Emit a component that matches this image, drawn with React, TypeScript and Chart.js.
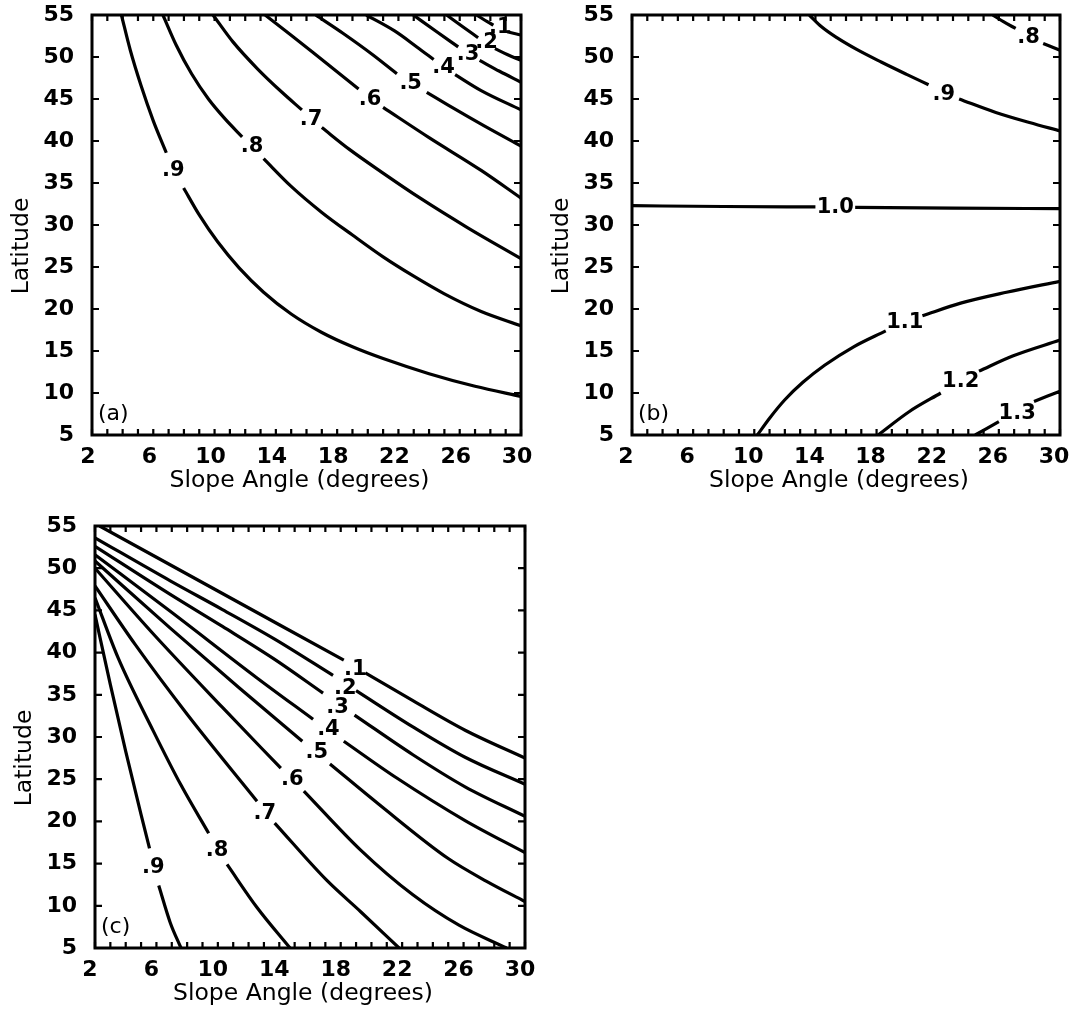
import { useEffect, useRef } from "react";
import { Chart, registerables } from "chart.js";

Chart.register(...registerables);

// ---------- axis ticks ----------
const xTickValues = [2, 6, 10, 14, 18, 22, 26, 30];
const xMinorTickValues = [2, 3, 4, 5, 6, 7, 8, 9, 10, 11, 12, 13, 14, 15, 16, 17, 18, 19, 20, 21, 22, 23, 24, 25, 26, 27, 28, 29, 30];
const yTickValues = [5, 10, 15, 20, 25, 30, 35, 40, 45, 50, 55];
const xTitle = "Slope Angle (degrees)";
const yTitle = "Latitude";

type Pt = [number, number] | null;

// ---------- panel (a) contours (null = gap left for the label) ----------
const a01: Pt[] = [[27.1, 55], [27.8, 54.2], [28.2, 53.8], null, [29.1, 53.0], [30, 52.6]];
const a02: Pt[] = [[25.15, 55], [26.2, 53.6], [27.2, 52.3], null, [28.3, 51.0], [29.1, 50.3], [30, 49.6]];
const a03: Pt[] = [[22.97, 55], [24.5, 53], [25.9, 51.2], null, [27.3, 49.6], [28.6, 48.3], [30, 47.0]];
const a04: Pt[] = [[19.9, 55], [21.75, 53.1], [23.2, 51.2], [24.3, 49.7], null, [25.7, 47.9], [27.4, 46.0], [30, 43.7]];
const a05: Pt[] = [[16.6, 55], [18.4, 52.8], [20.3, 50.3], [21.9, 48.0], null, [23.85, 45.8], [25.5, 44.0], [27.6, 41.8], [30, 39.4]];
const a06: Pt[] = [[13.3, 55], [15, 52.6], [17.2, 49.4], [19.4, 46.2], null, [21.0, 44.0], [24, 40.4], [27.4, 36.5], [30, 33.2]];
const a07: Pt[] = [[9.9, 55], [11.2, 51.8], [12.8, 48.6], [14.4, 45.8], [15.7, 43.7], null, [17, 41.6], [18.8, 39], [20.9, 36.3], [23.5, 33.1], [26.5, 29.7], [30, 26.0]];
const a08: Pt[] = [[6.63, 55], [7.5, 51.4], [8.5, 48], [9.6, 45], [10.7, 42.6], [11.8, 40.5], null, [13.2, 37.9], [15, 34.6], [17, 31.5], [19, 28.8], [21, 26.2], [23, 23.9], [25, 21.8], [27.4, 19.7], [30, 18.0]];
const a09: Pt[] = [[3.92, 55], [4.5, 50.8], [5.2, 46.6], [6.0, 42.4], [6.85, 38.6], null, [7.98, 34.4], [9.0, 31.2], [10.2, 28.0], [11.6, 24.9], [13.2, 22.0], [15, 19.4], [17, 17.2], [19, 15.5], [21, 14.1], [24, 12.3], [27, 10.8], [30, 9.6]];
const aLabels = [
  { text: ".1", x: 28.65, y: 53.5 },
  { text: ".2", x: 27.75, y: 51.7 },
  { text: ".3", x: 26.55, y: 50.3 },
  { text: ".4", x: 24.95, y: 48.7 },
  { text: ".5", x: 22.8, y: 46.8 },
  { text: ".6", x: 20.15, y: 44.9 },
  { text: ".7", x: 16.3, y: 42.6 },
  { text: ".8", x: 12.45, y: 39.3 },
  { text: ".9", x: 7.3, y: 36.5 },
];

// ---------- panel (b) contours ----------
const b08: Pt[] = [[25.6, 55], [26.3, 54.2], [27.1, 53.4], null, [28.9, 51.6], [30, 50.8]];
const b09: Pt[] = [[13.6, 55], [14.4, 53.6], [15.4, 52.3], [16.7, 50.9], [18.3, 49.4], [20, 47.9], [21.4, 46.7], null, [23.4, 45.0], [25.8, 43.4], [28, 42.2], [30, 41.2]];
const b10: Pt[] = [[2, 32.3], [8, 32.2], [14, 32.15], null, [16.6, 32.1], [23, 32.0], [30, 31.95]];
const b11: Pt[] = [[10.2, 5], [11.0, 7.0], [12.0, 9.2], [13.2, 11.3], [14.6, 13.3], [16.5, 15.5], [18.6, 17.4], null, [21, 19.2], [23.5, 20.7], [26.5, 22.0], [30, 23.3]];
const b12: Pt[] = [[18.1, 5], [20.15, 7.8], [22.2, 10], null, [24.7, 12.6], [26.9, 14.4], [30, 16.3]];
const b13: Pt[] = [[24.45, 5], [26, 6.6], null, [28.3, 9.0], [30, 10.2]];
const bLabels = [
  { text: ".8", x: 27.95, y: 52.3 },
  { text: ".9", x: 22.4, y: 45.5 },
  { text: "1.0", x: 15.3, y: 32.1 },
  { text: "1.1", x: 19.85, y: 18.4 },
  { text: "1.2", x: 23.5, y: 11.4 },
  { text: "1.3", x: 27.2, y: 7.6 },
];

// ---------- panel (c) contours ----------
const c01: Pt[] = [[2.3, 55], [6, 51.3], [10, 47.3], [14, 43.3], [18.2, 39.1], null, [19.6, 37.6], [22.7, 34.3], [26.1, 30.8], [30, 27.5]];
const c02: Pt[] = [[2, 53.6], [6.9, 48.5], [10.3, 45.1], [13.7, 41.6], [17.5, 37.3], null, [19, 35.5], [22.7, 31.2], [26.1, 27.6], [30, 24.4]];
const c03: Pt[] = [[2, 52.6], [6.9, 46.9], [10.3, 43.1], [13.7, 39.2], [16.85, 35.2], null, [18.9, 32.6], [22.7, 27.9], [26.1, 24.1], [30, 20.6]];
const c04: Pt[] = [[2, 51.6], [6.9, 44.9], [12.55, 37], [16.2, 32.1], null, [18.2, 29.5], [21.6, 25.2], [26.1, 20.1], [30, 16.3]];
const c05: Pt[] = [[2, 50.85], [6.9, 42.9], [11.4, 35.8], [15.5, 29.5], null, [17.3, 26.8], [20.5, 22.0], [25, 15.6], [27.5, 12.9], [30, 10.5]];
const c06: Pt[] = [[2, 50], [5.8, 42.2], [10.3, 33.5], [14.1, 26.3], null, [15.6, 23.6], [19.3, 16.6], [22.7, 11.3], [25.7, 7.7], [28.8, 5]];
const c07: Pt[] = [[2, 47.9], [4.6, 41], [8, 32.7], [12.55, 22.4], null, [13.7, 19.8], [17.1, 13], [19.3, 9.3], [21.8, 5]];
const c08: Pt[] = [[2, 46.5], [3.5, 39.4], [5.8, 30.7], [7.6, 24.3], [9.4, 18.6], null, [10.6, 14.9], [12.55, 9.8], [14.7, 5]];
const c09: Pt[] = [[2, 44.5], [3, 36.2], [4, 28.3], [5, 20.8], [5.55, 16.8], null, [6.15, 12.4], [6.9, 8.0], [7.6, 5]];
const cLabels = [
  { text: ".1", x: 18.95, y: 38.0 },
  { text: ".2", x: 18.3, y: 35.8 },
  { text: ".3", x: 17.8, y: 33.5 },
  { text: ".4", x: 17.2, y: 30.9 },
  { text: ".5", x: 16.45, y: 28.1 },
  { text: ".6", x: 14.85, y: 24.9 },
  { text: ".7", x: 13.05, y: 20.9 },
  { text: ".8", x: 9.95, y: 16.6 },
  { text: ".9", x: 5.8, y: 14.5 },
];

const INK = "#000";
const TICK_FONT = { family: "'DejaVu Sans', sans-serif", size: 22, weight: "bold" as const };
const LABEL_FONT = "bold 21px 'DejaVu Sans', sans-serif";
const TITLE_FONT = "23.5px 'DejaVu Sans', sans-serif";
const TAG_FONT = "22px 'DejaVu Sans', sans-serif";

function toPoints(arr: Pt[]) {
  return arr.map((p, i) => {
    if (p) return { x: p[0], y: p[1] };
    const prev = arr[i - 1] as [number, number];
    const next = arr[i + 1] as [number, number];
    return { x: (prev[0] + next[0]) / 2, y: null as unknown as number };
  });
}

function makeOverlay(labels: { text: string; x: number; y: number }[], tag: string) {
  return {
    id: "overlay",
    afterDatasetsDraw(chart: Chart) {
      const { ctx, chartArea } = chart;
      const { left, right, top, bottom } = chartArea;
      const xs = chart.scales.x;
      const ys = chart.scales.y;
      ctx.save();
      ctx.strokeStyle = INK;
      ctx.fillStyle = INK;
      ctx.lineWidth = 2.2;
      for (const v of xMinorTickValues) {
        const p = xs.getPixelForValue(v);
        ctx.beginPath();
        ctx.moveTo(p, bottom);
        ctx.lineTo(p, bottom - 6);
        ctx.moveTo(p, top);
        ctx.lineTo(p, top + 6);
        ctx.stroke();
      }
      for (const v of yTickValues) {
        const p = ys.getPixelForValue(v);
        ctx.beginPath();
        ctx.moveTo(left, p);
        ctx.lineTo(left + 7, p);
        ctx.moveTo(right, p);
        ctx.lineTo(right - 7, p);
        ctx.stroke();
      }
      ctx.lineWidth = 3;
      ctx.strokeRect(left, top, right - left, bottom - top);

      ctx.font = LABEL_FONT;
      ctx.textAlign = "center";
      ctx.textBaseline = "middle";
      for (const l of labels) {
        ctx.fillText(l.text, xs.getPixelForValue(l.x), ys.getPixelForValue(l.y));
      }
      ctx.font = TAG_FONT;
      ctx.textAlign = "left";
      ctx.fillText(tag, left + 6, bottom - 21);

      ctx.font = TITLE_FONT;
      ctx.textAlign = "center";
      ctx.fillText(xTitle, (left + right) / 2 - 7, bottom + 46);
      ctx.translate(left - 70, (top + bottom) / 2 + 21);
      ctx.rotate(-Math.PI / 2);
      ctx.fillText(yTitle, 0, 0);
      ctx.restore();
    },
  };
}

type PanelProps = {
  contours: Pt[][];
  names: string[];
  labels: { text: string; x: number; y: number }[];
  tag: string;
  width: number;
  height: number;
  yAxisWidth: number;
  xAxisHeight: number;
  padTop: number;
  padRight: number;
  labelOffset: number;
  style: React.CSSProperties;
};

function Panel(props: PanelProps) {
  const ref = useRef<HTMLCanvasElement>(null);
  useEffect(() => {
    if (!ref.current) return;
    const chart = new Chart(ref.current, {
      type: "line",
      data: {
        datasets: props.contours.map((c, i) => ({
          label: props.names[i],
          data: toPoints(c),
          borderColor: INK,
          borderWidth: 3.2,
          pointRadius: 0,
          fill: false,
          spanGaps: false,
          cubicInterpolationMode: "monotone" as const,
        })),
      },
      options: {
        responsive: false,
        animation: false,
        layout: { padding: { top: props.padTop, right: props.padRight, left: 0, bottom: 0 } },
        plugins: { legend: { display: false }, tooltip: { enabled: false } },
        scales: {
          x: {
            type: "linear",
            min: 2,
            max: 30,
            grid: { display: false },
            border: { display: false },
            afterBuildTicks: (s: any) => {
              s.ticks = xTickValues.map((v) => ({ value: v }));
            },
            afterFit: (s: any) => {
              s.height = props.xAxisHeight;
              s.paddingLeft = 0;
              s.paddingRight = 0;
            },
            ticks: {
              color: INK,
              font: TICK_FONT,
              padding: 1,
              maxRotation: 0,
              autoSkip: false,
              labelOffset: props.labelOffset,
            },
          },
          y: {
            type: "linear",
            min: 5,
            max: 55,
            grid: { display: false },
            border: { display: false },
            afterBuildTicks: (s: any) => {
              s.ticks = yTickValues.map((v) => ({ value: v }));
            },
            afterFit: (s: any) => {
              s.width = props.yAxisWidth;
              s.paddingTop = 0;
              s.paddingBottom = 0;
            },
            ticks: { color: INK, font: TICK_FONT, padding: 10, autoSkip: false },
          },
        },
      },
      plugins: [makeOverlay(props.labels, props.tag)],
    });
    return () => chart.destroy();
  }, []);
  return <canvas ref={ref} width={props.width} height={props.height} style={{ position: "absolute", width: props.width, height: props.height, ...props.style }} />;
}

export default function App() {
  return (
    <div style={{ position: "absolute", left: 0, top: 0, width: 1069, height: 1016, background: "#fff", overflow: "hidden" }}>
      <Panel
        contours={[a01, a02, a03, a04, a05, a06, a07, a08, a09]}
        names={[".1", ".2", ".3", ".4", ".5", ".6", ".7", ".8", ".9"]}
        labels={aLabels}
        tag="(a)"
        width={540}
        height={505}
        yAxisWidth={92}
        xAxisHeight={70}
        padTop={15}
        padRight={19}
        labelOffset={-4}
        style={{ left: 0, top: 0 }}
      />
      <Panel
        contours={[b08, b09, b10, b11, b12, b13]}
        names={[".8", ".9", "1.0", "1.1", "1.2", "1.3"]}
        labels={bLabels}
        tag="(b)"
        width={529}
        height={505}
        yAxisWidth={92}
        xAxisHeight={70}
        padTop={15}
        padRight={9}
        labelOffset={-6}
        style={{ left: 540, top: 0 }}
      />
      <Panel
        contours={[c01, c02, c03, c04, c05, c06, c07, c08, c09]}
        names={[".1", ".2", ".3", ".4", ".5", ".6", ".7", ".8", ".9"]}
        labels={cLabels}
        tag="(c)"
        width={540}
        height={506}
        yAxisWidth={95}
        xAxisHeight={68}
        padTop={16}
        padRight={15}
        labelOffset={-5}
        style={{ left: 0, top: 510 }}
      />
    </div>
  );
}
